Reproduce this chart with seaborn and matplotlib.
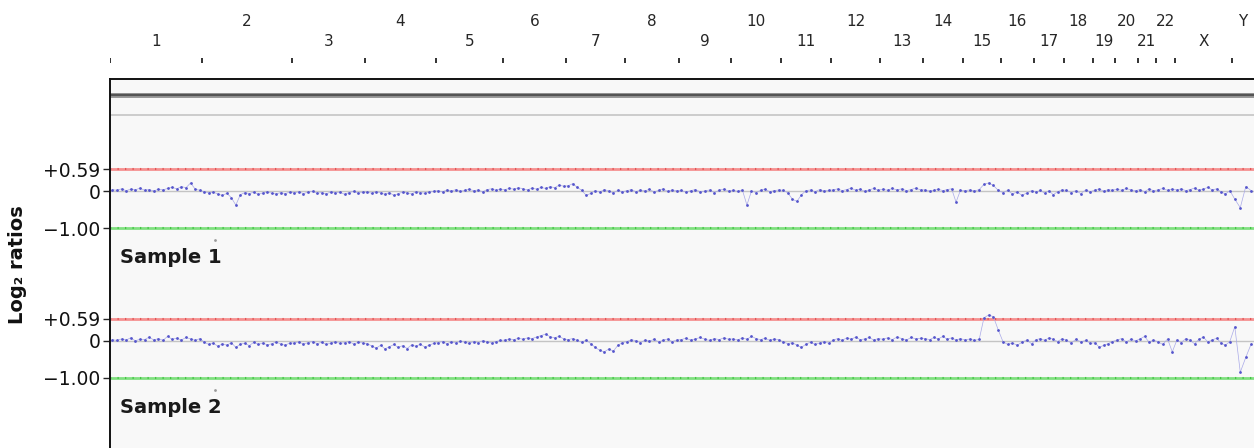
import numpy as np
import pandas as pd
import matplotlib
matplotlib.use("Agg")
import matplotlib.pyplot as plt
import seaborn as sns

sns.set_style("white")
plt.rcParams["font.family"] = ["DejaVu Sans"]

# Chromosomes and lengths (Mb, hg19)
chroms = ["1", "2", "3", "4", "5", "6", "7", "8", "9", "10", "11", "12",
          "13", "14", "15", "16", "17", "18", "19", "20", "21", "22", "X", "Y"]
chrom_len = [249.3, 243.2, 198.0, 191.2, 180.9, 171.1, 159.1, 146.4, 141.2,
             135.5, 135.0, 133.9, 115.2, 107.3, 102.5, 90.4, 81.2, 78.1,
             59.1, 63.0, 48.1, 51.3, 155.3, 59.4]
probes_per_chrom = [20, 20, 16, 16, 15, 14, 13, 12, 11, 11, 11, 11,
                    9, 9, 8, 7, 7, 6, 5, 5, 4, 4, 13, 4]

# log2 ratios, sample 1 (per chromosome, in order)
sample1 = [
    0.04, 0.02, 0.06, 0.01, 0.05, 0.03, 0.08, 0.02, 0.04, 0.00, 0.05, 0.03, 0.07, 0.10, 0.06, 0.12, 0.09, 0.22, 0.05, 0.02,
    -0.02, -0.05, -0.03, -0.08, -0.12, -0.06, -0.18, -0.38, -0.10, -0.04, -0.07, -0.03, -0.09, -0.05, -0.02, -0.06, -0.08, -0.04, -0.07, -0.03,
    -0.05, -0.02, -0.07, -0.03, -0.01, -0.06, -0.04, -0.08, -0.02, -0.05, -0.03, -0.09, -0.04, -0.01, -0.06, -0.03,
    -0.03, -0.06, -0.02, -0.05, -0.09, -0.04, -0.12, -0.07, -0.03, -0.05, -0.08, -0.02, -0.04, -0.06, -0.03, -0.01,
    0.01, -0.02, 0.03, 0.00, 0.04, -0.01, 0.02, 0.05, 0.01, 0.03, -0.02, 0.04, 0.06, 0.02, 0.05,
    0.04, 0.07, 0.05, 0.09, 0.06, 0.03, 0.08, 0.05, 0.10, 0.07, 0.12, 0.09, 0.16, 0.13,
    0.14, 0.20, 0.10, 0.02, -0.12, -0.06, 0.01, -0.03, 0.04, 0.00, -0.05, 0.02, -0.02,
    0.01, 0.04, -0.02, 0.03, 0.00, 0.05, -0.03, 0.02, 0.06, -0.01, 0.03, 0.01,
    0.02, -0.03, 0.01, 0.04, -0.02, 0.00, 0.03, -0.04, 0.02, 0.05, 0.00,
    0.02, -0.01, 0.03, -0.38, 0.00, -0.04, 0.02, 0.05, -0.02, 0.01, 0.03,
    0.02, -0.05, -0.22, -0.28, -0.10, 0.01, 0.03, -0.02, 0.04, 0.00, 0.02,
    0.03, 0.06, 0.01, 0.04, 0.08, 0.02, 0.05, -0.01, 0.03, 0.07, 0.02,
    0.05, 0.02, 0.07, 0.03, 0.06, 0.01, 0.04, 0.08, 0.03,
    0.03, 0.00, 0.02, 0.05, 0.01, 0.04, 0.06, -0.30, 0.02,
    0.01, 0.03, 0.00, 0.04, 0.18, 0.22, 0.15, 0.02,
    -0.04, 0.02, -0.08, -0.02, -0.12, -0.05, 0.01,
    -0.03, 0.02, -0.06, 0.01, -0.10, -0.02, 0.03,
    0.02, -0.04, 0.01, -0.07, 0.03, -0.02,
    0.03, 0.06, -0.01, 0.04, 0.02,
    0.05, 0.02, 0.07, 0.03, 0.01,
    0.04, -0.02, 0.06, 0.01,
    0.03, 0.07, 0.02, 0.05,
    0.03, 0.06, 0.01, 0.04, 0.08, 0.02, 0.05, 0.10, 0.03, 0.06, -0.02, -0.08, 0.01,
    -0.22, -0.45, 0.12, 0.01,
]

# log2 ratios, sample 2
sample2 = [
    0.03, 0.01, 0.05, 0.02, 0.08, 0.00, 0.04, 0.03, 0.10, 0.02, 0.06, 0.01, 0.12, 0.04, 0.07, 0.02, 0.09, 0.05, 0.01, 0.06,
    -0.04, -0.10, -0.06, -0.15, -0.08, -0.12, -0.05, -0.18, -0.09, -0.07, -0.13, -0.04, -0.10, -0.06, -0.11, -0.08, -0.03, -0.09, -0.12, -0.06,
    -0.06, -0.03, -0.09, -0.05, -0.02, -0.08, -0.04, -0.10, -0.06, -0.03, -0.07, -0.05, -0.02, -0.09, -0.04, -0.06,
    -0.08, -0.14, -0.20, -0.12, -0.22, -0.16, -0.10, -0.18, -0.13, -0.21, -0.11, -0.15, -0.09, -0.17, -0.12, -0.07,
    -0.05, -0.02, -0.08, -0.03, -0.06, -0.01, -0.04, -0.07, -0.02, -0.05, 0.00, -0.03, -0.06, -0.02, 0.01,
    0.02, 0.05, 0.03, 0.07, 0.04, 0.08, 0.06, 0.10, 0.14, 0.18, 0.11, 0.08, 0.12, 0.05,
    0.03, 0.06, 0.01, -0.04, 0.02, -0.08, -0.18, -0.26, -0.30, -0.22, -0.28, -0.12, -0.05,
    -0.02, 0.03, 0.00, -0.05, 0.02, -0.01, 0.04, -0.03, 0.01, 0.05, -0.02, 0.02,
    0.03, 0.07, 0.02, 0.05, 0.09, 0.04, 0.01, 0.06, 0.03, 0.08, 0.04,
    0.05, 0.02, 0.08, 0.04, 0.12, 0.06, 0.03, 0.07, 0.01, 0.05, 0.03,
    -0.03, -0.08, -0.05, -0.12, -0.18, -0.09, -0.04, -0.10, -0.06, -0.02, -0.07,
    0.02, 0.06, 0.01, 0.08, 0.04, 0.10, 0.03, 0.05, 0.09, 0.02, 0.06,
    0.04, 0.08, 0.03, 0.10, 0.06, 0.02, 0.09, 0.05, 0.07,
    0.06, 0.03, 0.09, 0.05, 0.12, 0.04, 0.08, 0.02, 0.06,
    0.02, 0.05, 0.01, 0.04, 0.62, 0.70, 0.65, 0.30,
    -0.02, -0.10, -0.06, -0.12, -0.04, 0.02, -0.08,
    0.03, 0.06, 0.01, 0.08, 0.04, -0.02, 0.05,
    0.02, -0.06, 0.04, -0.03, 0.01, -0.07,
    -0.05, -0.18, -0.12, -0.08, -0.02,
    0.02, 0.06, -0.03, 0.04, 0.00,
    0.05, 0.12, -0.04, 0.02,
    -0.03, -0.10, 0.05, -0.30,
    0.02, -0.05, 0.06, 0.01, -0.08, 0.04, 0.10, -0.03, 0.02, 0.07, -0.06, -0.12, -0.02,
    0.38, -0.85, -0.45, -0.08,
]

# excluded probe (grey) shown in both samples
excluded_pos = [284.0]
excluded_val = [-1.32]

gain_thr = 0.59
loss_thr = -1.00
samples = ["Sample 1", "Sample 2"]
sample_values = [sample1, sample2]
row_offset = [0.0, -4.05]

# genome coordinates
starts = np.concatenate([[0], np.cumsum(chrom_len)[:-1]])
ends = np.cumsum(chrom_len)
pos = []
for s, L, n in zip(starts, chrom_len, probes_per_chrom):
    pos.extend(s + (np.arange(n) + 0.5) / n * L)
pos = np.array(pos)

fig = plt.figure(figsize=(12.54, 4.48), dpi=100)
W, H = 1254, 448
ax = fig.add_axes([110 / W, 0, 1144 / W, 369 / H])
ax.set_facecolor("#f8f8f8")
ax.set_xlim(0, ends[-1])
ax.set_ylim(-6.95, 3.03)

# top ideogram-like track
ax.axhline(2.59, color="#9a9a9a", lw=3.6, zorder=2)
ax.axhline(2.59, color="#555555", lw=1.6, zorder=2)
ax.axhline(2.05, color="#c9c9c9", lw=1.3, zorder=2)

for name, vals, off in zip(samples, sample_values, row_offset):
    ax.axhline(off, color="#c4c4c4", lw=1.0, zorder=1)
    ax.axhline(off + gain_thr, color="#f59090", lw=2.0, zorder=2)
    ax.axhline(off + gain_thr, color="#e35555", lw=1.5, ls=(0, (0.6, 3)), zorder=2)
    ax.axhline(off + loss_thr, color="#80e080", lw=2.0, zorder=2)
    ax.axhline(off + loss_thr, color="#45c445", lw=1.5, ls=(0, (0.6, 3)), zorder=2)

    df = pd.DataFrame({"pos": pos, "y": np.array(vals) + off})
    sns.lineplot(data=df, x="pos", y="y", ax=ax, color="#a9a9e8", lw=0.5,
                 estimator=None, sort=False, zorder=3)
    sns.scatterplot(data=df, x="pos", y="y", ax=ax, color="#5555cc", s=4,
                    linewidth=0, zorder=4)
    ax.scatter(excluded_pos, np.array(excluded_val) + off, color="#9a9a9a",
               s=4, linewidth=0, zorder=4)

    ax.text(10 / 1144, off - 1.81, name, transform=ax.get_yaxis_transform(),
            fontsize=14, fontweight="bold", color="#1a1a1a", va="center",
            ha="left")

ticks, labels = [], []
for off in row_offset:
    ticks += [off + gain_thr, off, off + loss_thr]
    labels += ["+0.59", "0", "\u22121.00"]
ax.set_yticks(ticks)
ax.set_yticklabels(labels, fontsize=13.5, color="#111111")
ax.tick_params(axis="y", direction="out", length=5, width=1, pad=2, left=True)
ax.set_xticks([])
ax.set_xlabel("")
ax.set_ylabel("")
for side in ["right", "bottom"]:
    ax.spines[side].set_visible(False)
for side in ["left", "top"]:
    ax.spines[side].set_color("#111111")
    ax.spines[side].set_linewidth(1.4)

# chromosome header
hdr = fig.add_axes([110 / W, 369 / H, 1144 / W, 79 / H])
hdr.set_xlim(0, ends[-1])
hdr.set_ylim(79, 0)
hdr.axis("off")
hdr.vlines(starts, 58, 63, color="#222222", lw=1.3)
for i, (c, s, e) in enumerate(zip(chroms, starts, ends)):
    y = 22 if i % 2 == 1 else 42
    hdr.text((s + e) / 2, y, c, ha="center", va="center", fontsize=11,
             color="#262626")

fig.text(18 / W, 1 - 265 / H, "Log\u2082 ratios", rotation=90, ha="center",
         va="center", fontsize=14, fontweight="bold", color="#111111")

fig.savefig("out.png", dpi=100)
